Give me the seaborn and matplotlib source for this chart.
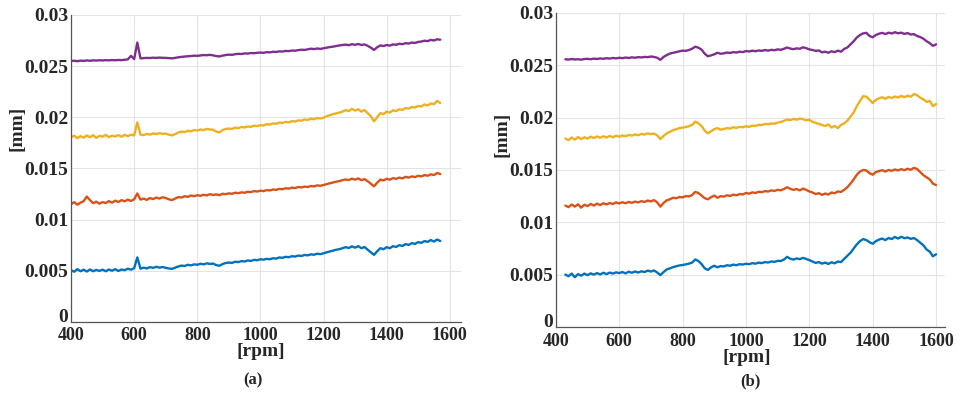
import numpy as np
import matplotlib
matplotlib.use('Agg')
import matplotlib.pyplot as plt
from matplotlib.ticker import FuncFormatter
import seaborn as sns

# amplitudes in 1e-3 mm, one sample every 10 rpm
a_start = 400
a_purple = [25.50, 25.52, 25.48, 25.53, 25.51, 25.55, 25.52, 25.56, 25.54, 25.57,
            25.55, 25.58, 25.56, 25.59, 25.57, 25.60, 25.58, 25.62, 25.66, 26.00,
            25.68, 27.30, 25.75, 25.78, 25.80, 25.79, 25.82, 25.80, 25.83, 25.81,
            25.80, 25.78, 25.76, 25.80, 25.86, 25.90, 25.93, 25.96, 25.98, 26.02,
            26.00, 26.04, 26.08, 26.06, 26.10, 26.05, 25.98, 25.94, 26.02, 26.08,
            26.12, 26.10, 26.16, 26.20, 26.18, 26.24, 26.22, 26.28, 26.26, 26.30,
            26.32, 26.30, 26.36, 26.34, 26.40, 26.38, 26.44, 26.42, 26.48, 26.46,
            26.52, 26.50, 26.56, 26.60, 26.58, 26.64, 26.70, 26.66, 26.72, 26.68,
            26.74, 26.80, 26.86, 26.90, 26.96, 27.02, 27.06, 27.10, 27.04, 27.14,
            27.08, 27.16, 27.06, 27.12, 26.98, 26.80, 26.58, 26.84, 27.02, 26.96,
            27.06, 27.00, 27.12, 27.08, 27.18, 27.14, 27.24, 27.20, 27.30, 27.26,
            27.36, 27.40, 27.48, 27.44, 27.56, 27.50, 27.62, 27.58]
a_yellow = [18.05, 18.20, 17.95, 18.15, 18.00, 18.22, 18.05, 18.25, 17.98, 18.18,
            18.10, 18.28, 18.05, 18.20, 18.12, 18.25, 18.10, 18.28, 18.15, 18.30,
            18.22, 19.50, 18.30, 18.25, 18.38, 18.30, 18.42, 18.35, 18.45, 18.38,
            18.40, 18.30, 18.22, 18.35, 18.50, 18.60, 18.55, 18.68, 18.62, 18.75,
            18.70, 18.80, 18.74, 18.86, 18.80, 18.78, 18.60, 18.52, 18.75, 18.85,
            18.90, 18.86, 18.98, 18.94, 19.05, 19.00, 19.10, 19.06, 19.18, 19.14,
            19.22, 19.20, 19.32, 19.28, 19.40, 19.36, 19.48, 19.44, 19.55, 19.50,
            19.62, 19.58, 19.70, 19.66, 19.78, 19.74, 19.86, 19.80, 19.92, 19.88,
            19.95, 20.10, 20.20, 20.30, 20.38, 20.45, 20.55, 20.70, 20.60, 20.82,
            20.65, 20.78, 20.55, 20.70, 20.40, 20.10, 19.60, 20.00, 20.40, 20.30,
            20.55, 20.45, 20.68, 20.60, 20.78, 20.72, 20.90, 20.85, 21.00, 20.95,
            21.10, 21.05, 21.25, 21.15, 21.35, 21.28, 21.60, 21.40]
a_orange = [11.50, 11.70, 11.45, 11.65, 11.80, 12.25, 11.90, 11.60, 11.75, 11.55,
            11.70, 11.62, 11.80, 11.65, 11.85, 11.72, 11.90, 11.78, 11.95, 11.82,
            11.98, 12.55, 11.95, 12.05, 11.92, 12.10, 12.00, 12.15, 12.05, 12.18,
            12.10, 11.98, 11.90, 12.05, 12.20, 12.15, 12.28, 12.22, 12.35, 12.28,
            12.38, 12.32, 12.42, 12.36, 12.48, 12.40, 12.46, 12.38, 12.52, 12.48,
            12.56, 12.52, 12.62, 12.58, 12.66, 12.62, 12.72, 12.68, 12.78, 12.74,
            12.82, 12.78, 12.88, 12.84, 12.94, 12.90, 13.00, 12.96, 13.06, 13.02,
            13.12, 13.08, 13.18, 13.14, 13.22, 13.18, 13.28, 13.24, 13.34, 13.30,
            13.38, 13.46, 13.55, 13.62, 13.70, 13.76, 13.85, 13.92, 13.86, 14.00,
            13.90, 14.02, 13.85, 13.95, 13.75, 13.50, 13.25, 13.60, 13.90, 13.82,
            13.98, 13.90, 14.05, 13.98, 14.10, 14.02, 14.18, 14.10, 14.22, 14.15,
            14.28, 14.22, 14.35, 14.28, 14.42, 14.35, 14.55, 14.45]
a_blue = [5.05, 4.90, 5.15, 4.95, 5.10, 4.92, 5.12, 4.95, 5.08, 4.98,
          5.10, 4.95, 5.12, 5.00, 5.15, 4.98, 5.12, 5.05, 5.20, 5.10,
          5.25, 6.30, 5.20, 5.30, 5.22, 5.35, 5.28, 5.38, 5.30, 5.36,
          5.28, 5.22, 5.18, 5.30, 5.42, 5.50, 5.46, 5.58, 5.52, 5.62,
          5.58, 5.68, 5.62, 5.72, 5.66, 5.70, 5.55, 5.48, 5.65, 5.75,
          5.80, 5.76, 5.88, 5.84, 5.94, 5.90, 6.00, 5.96, 6.06, 6.02,
          6.12, 6.08, 6.16, 6.12, 6.22, 6.18, 6.30, 6.26, 6.36, 6.32,
          6.42, 6.38, 6.48, 6.44, 6.54, 6.50, 6.60, 6.56, 6.66, 6.62,
          6.70, 6.80, 6.88, 6.96, 7.05, 7.10, 7.20, 7.30, 7.22, 7.38,
          7.25, 7.40, 7.20, 7.32, 7.05, 6.80, 6.55, 6.90, 7.20, 7.10,
          7.30, 7.20, 7.40, 7.32, 7.50, 7.42, 7.60, 7.52, 7.70, 7.62,
          7.80, 7.72, 7.90, 7.82, 8.00, 7.85, 8.05, 7.90]

b_start = 430
b_purple = [25.58, 25.55, 25.60, 25.56, 25.58, 25.54, 25.60, 25.62, 25.58, 25.64,
            25.60, 25.66, 25.62, 25.68, 25.64, 25.70, 25.66, 25.72, 25.68, 25.74,
            25.70, 25.76, 25.72, 25.78, 25.75, 25.80, 25.78, 25.84, 25.80, 25.72,
            25.52, 25.80, 25.98, 26.12, 26.20, 26.26, 26.34, 26.40, 26.38, 26.46,
            26.58, 26.78, 26.68, 26.50, 26.10, 25.86, 25.95, 26.05, 26.20, 26.10,
            26.14, 26.22, 26.18, 26.26, 26.22, 26.30, 26.26, 26.36, 26.32, 26.40,
            26.34, 26.42, 26.38, 26.46, 26.40, 26.48, 26.44, 26.52, 26.48, 26.58,
            26.70, 26.60, 26.54, 26.62, 26.58, 26.72, 26.64, 26.52, 26.46, 26.38,
            26.42, 26.24, 26.30, 26.20, 26.34, 26.26, 26.40, 26.30, 26.56, 26.70,
            27.00, 27.30, 27.66, 27.90, 28.05, 28.10, 27.80, 27.68, 27.90, 28.02,
            28.10, 27.98, 28.12, 28.04, 28.16, 28.06, 28.12, 28.00, 28.08, 27.94,
            27.98, 27.80, 27.70, 27.54, 27.30, 27.12, 26.86, 27.00]
b_yellow = [18.00, 17.85, 18.10, 17.90, 18.15, 17.95, 18.12, 18.00, 18.18, 18.05,
            18.20, 18.08, 18.22, 18.10, 18.25, 18.12, 18.28, 18.18, 18.30, 18.22,
            18.35, 18.28, 18.40, 18.32, 18.45, 18.38, 18.50, 18.42, 18.48, 18.30,
            17.95, 18.25, 18.50, 18.65, 18.80, 18.90, 19.00, 19.05, 19.10, 19.18,
            19.30, 19.62, 19.45, 19.20, 18.75, 18.50, 18.70, 18.90, 19.00, 18.85,
            18.92, 19.00, 18.95, 19.08, 19.02, 19.12, 19.08, 19.18, 19.12, 19.24,
            19.20, 19.32, 19.28, 19.40, 19.36, 19.45, 19.42, 19.52, 19.58, 19.70,
            19.82, 19.76, 19.88, 19.80, 19.92, 19.85, 19.74, 19.80, 19.60, 19.50,
            19.40, 19.30, 19.20, 19.35, 19.05, 19.20, 19.00, 19.30, 19.45, 19.70,
            20.10, 20.50, 21.10, 21.60, 22.05, 22.00, 21.70, 21.40, 21.70, 21.85,
            21.95, 21.80, 21.98, 21.88, 22.02, 21.92, 22.08, 21.95, 22.10, 22.00,
            22.25, 22.15, 21.90, 21.75, 21.50, 21.60, 21.10, 21.30]
b_orange = [11.60, 11.45, 11.70, 11.50, 11.72, 11.40, 11.68, 11.55, 11.75, 11.60,
            11.78, 11.65, 11.82, 11.70, 11.85, 11.75, 11.90, 11.80, 11.92, 11.82,
            11.95, 11.86, 11.98, 11.90, 12.02, 11.95, 12.08, 12.00, 12.12, 11.90,
            11.50, 11.85, 12.10, 12.20, 12.35, 12.30, 12.42, 12.38, 12.50, 12.48,
            12.60, 12.90, 12.80, 12.55, 12.30, 12.20, 12.40, 12.55, 12.35, 12.50,
            12.45, 12.58, 12.52, 12.64, 12.58, 12.70, 12.66, 12.80, 12.74, 12.86,
            12.80, 12.92, 12.88, 12.98, 12.94, 13.05, 13.00, 13.10, 13.06, 13.18,
            13.35, 13.20, 13.10, 13.18, 13.05, 13.22, 13.10, 12.95, 12.85, 12.70,
            12.78, 12.62, 12.75, 12.65, 12.85, 12.78, 12.95, 12.90, 13.10, 13.35,
            13.70, 14.10, 14.55, 14.85, 15.00, 14.95, 14.70, 14.55, 14.80, 14.90,
            14.98, 14.85, 15.00, 14.92, 15.05, 14.95, 15.08, 14.98, 15.12, 15.02,
            15.20, 15.10, 14.80, 14.50, 14.30, 14.10, 13.70, 13.55]
b_blue = [5.00, 4.85, 5.10, 4.75, 5.05, 4.90, 5.10, 4.95, 5.12, 5.00,
          5.15, 5.02, 5.18, 5.05, 5.20, 5.10, 5.22, 5.15, 5.25, 5.12,
          5.28, 5.18, 5.30, 5.20, 5.32, 5.25, 5.38, 5.30, 5.40, 5.20,
          4.95, 5.25, 5.50, 5.60, 5.72, 5.80, 5.88, 5.92, 5.98, 6.05,
          6.15, 6.45, 6.30, 6.00, 5.60, 5.45, 5.70, 5.85, 5.70, 5.82,
          5.78, 5.90, 5.85, 5.96, 5.90, 6.00, 5.96, 6.04, 6.00, 6.10,
          6.05, 6.15, 6.10, 6.20, 6.16, 6.26, 6.22, 6.32, 6.30, 6.45,
          6.70, 6.52, 6.44, 6.55, 6.48, 6.60, 6.50, 6.38, 6.25, 6.12,
          6.20, 6.05, 6.15, 6.02, 6.18, 6.08, 6.25, 6.20, 6.50, 6.80,
          7.10, 7.50, 7.90, 8.20, 8.40, 8.30, 8.10, 7.95, 8.20, 8.35,
          8.45, 8.30, 8.50, 8.40, 8.60, 8.45, 8.62, 8.48, 8.55, 8.42,
          8.50, 8.30, 8.05, 7.80, 7.40, 7.20, 6.75, 6.95]

colors = {'blue': '#0072BD', 'orange': '#D95319', 'yellow': '#EDB120', 'purple': '#7E2F8E'}

sns.set_style('white')
plt.rcParams['font.family'] = ['Liberation Serif', 'DejaVu Serif']
plt.rcParams['font.weight'] = 'bold'

fig = plt.figure(figsize=(9.6, 3.93), dpi=100)
ax_a = fig.add_axes([0.074, 0.181, 0.406, 0.781])
ax_b = fig.add_axes([0.579, 0.168, 0.405, 0.799])

panels = [
    (ax_a, a_start, {'blue': a_blue, 'orange': a_orange, 'yellow': a_yellow, 'purple': a_purple}, 1635),
    (ax_b, b_start, {'blue': b_blue, 'orange': b_orange, 'yellow': b_yellow, 'purple': b_purple}, 1627),
]

for ax, start, series, xmax in panels:
    for name, vals in series.items():
        rpm = start + 10 * np.arange(len(vals))
        sns.lineplot(x=rpm, y=np.array(vals) / 1000, color=colors[name],
                     linewidth=1.7, ax=ax)
    ax.set_xlim(400, xmax)
    ax.set_ylim(0, 0.03)
    ax.set_xticks([400, 600, 800, 1000, 1200, 1400, 1600])
    ax.set_yticks([0, 0.005, 0.01, 0.015, 0.02, 0.025, 0.03])
    ax.yaxis.set_major_formatter(FuncFormatter(lambda v, p: f'{v:g}'))
    ax.grid(True, color='#e3e3e3', linewidth=0.8)
    for s in ['top', 'right']:
        ax.spines[s].set_visible(False)
    for s in ['left', 'bottom']:
        ax.spines[s].set_color('#555555')
        ax.spines[s].set_linewidth(0.9)
    ax.tick_params(direction='in', length=3, color='#555555', labelsize=14, pad=2)
    ax.tick_params(axis='x', labelsize=13, pad=4)
    for lab in ax.get_xticklabels() + ax.get_yticklabels():
        lab.set_fontweight('bold')
    # the "0" label sits on the x axis line, as in the source figure
    ax.get_yticklabels()[0].set_va('baseline')

fig.text(17 / 960, 1 - 128 / 393, '[mm]', rotation=90, ha='center', va='center',
         fontsize=14, fontweight='bold')
fig.text(502 / 960, 1 - 134 / 393, '[mm]', rotation=90, ha='center', va='center',
         fontsize=14, fontweight='bold')
fig.text(261 / 960, 1 - 351 / 393, '[rpm]', ha='center', va='center', fontsize=14, fontweight='bold')
fig.text(747 / 960, 1 - 357 / 393, '[rpm]', ha='center', va='center', fontsize=14, fontweight='bold')
fig.text(253 / 960, 1 - 380 / 393, '(a)', ha='center', va='center', fontsize=12, fontweight='bold')
fig.text(750 / 960, 1 - 381 / 393, '(b)', ha='center', va='center', fontsize=12, fontweight='bold')

fig.savefig('out.png', dpi=100)
